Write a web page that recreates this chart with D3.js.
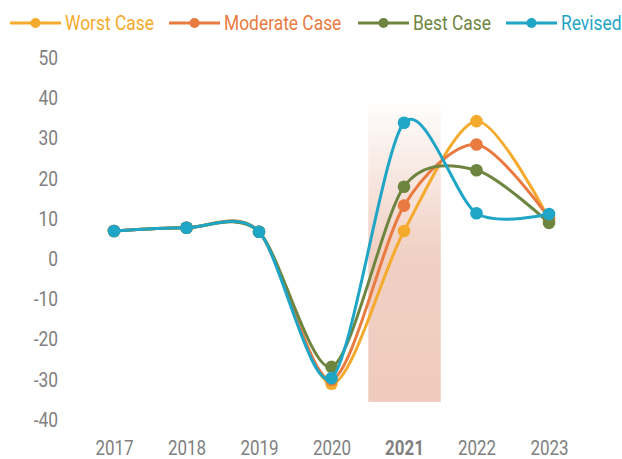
<!DOCTYPE html>
<html><head><meta charset="utf-8">
<script src="https://cdn.jsdelivr.net/npm/d3@7"></script>
<style>body{margin:0;background:#fff}svg{display:block;font-family:Roboto,sans-serif}</style>
</head><body><svg id="c" width="622" height="459"></svg>
<script>
const years = ["2017","2018","2019","2020","2021","2022","2023"];
const highlightYear = "2021";
const yTicks = [50,40,30,20,10,0,-10,-20,-30,-40];
const seriesNames = ["Worst Case","Moderate Case","Best Case","Revised"];
const seriesColors = ["#F4AA2C","#E97A40","#6E8540","#1FA5C6"];
const worstCase = [7, 7.8, 6.8, -31, 7, 34.3, 10];
const moderateCase = [7, 7.8, 6.8, -30, 13.3, 28.5, 10.3];
const bestCase = [7, 7.8, 6.8, -26.8, 18, 22.1, 9];
const revised = [7, 7.8, 6.8, -29.6, 33.9, 11.4, 11.2];
const seriesValues = [worstCase, moderateCase, bestCase, revised];

const svg = d3.select("#c");
const x = d3.scalePoint().domain(years).range([114, 549]);
const y = d3.scaleLinear().domain([-40, 50]).range([420, 58]);
const squeeze = "scale(0.87,1)";

// highlight band
const defs = svg.append("defs");
const g = defs.append("linearGradient").attr("id","hl").attr("x1",0).attr("y1",0).attr("x2",0).attr("y2",1);
g.append("stop").attr("offset","0").attr("stop-color","#EFCBBD").attr("stop-opacity",0.05);
g.append("stop").attr("offset","0.5").attr("stop-color","#EFCBBD").attr("stop-opacity",0.9);
g.append("stop").attr("offset","1").attr("stop-color","#EFCBBD").attr("stop-opacity",1);
const step = x.step();
svg.append("rect")
  .attr("x", x(highlightYear) - step/2 + 0.5)
  .attr("width", step)
  .attr("y", y(38.5))
  .attr("height", y(-35.5) - y(38.5))
  .attr("fill","url(#hl)");

// y axis
const yAxis = svg.append("g").attr("transform","translate(58,0)")
  .call(d3.axisLeft(y).tickValues(yTicks).tickSize(0).tickPadding(0).tickFormat(d => String(d)));
yAxis.select(".domain").remove();
yAxis.selectAll("text").attr("fill","#808080").attr("font-size","20px").attr("font-family","Roboto, sans-serif")
  .attr("transform", squeeze);

// x axis
const xAxis = svg.append("g").attr("transform","translate(0,449)")
  .call(d3.axisBottom(x).tickSize(0).tickPadding(0));
xAxis.select(".domain").remove();
xAxis.selectAll("text").attr("fill","#808080").attr("font-size","19.5px").attr("font-family","Roboto, sans-serif")
  .attr("dy","0.33em").attr("transform", squeeze)
  .attr("font-weight", d => d === highlightYear ? "bold" : "normal");

const line = d3.line().x((d,i)=>x(years[i])).y(d=>y(d)).curve(d3.curveCardinal.tension(0.15));

seriesValues.forEach((vals, si) => {
  const gs = svg.append("g");
  gs.append("path").datum(vals).attr("d", line).attr("fill","none")
    .attr("stroke", seriesColors[si]).attr("stroke-width",3);
  gs.selectAll("circle").data(vals).join("circle")
    .attr("cx",(d,i)=>x(years[i])).attr("cy",d=>y(d)).attr("r",6.3)
    .attr("fill",seriesColors[si]);
});

// legend
const legendX = [10, 169, 358, 506];
const lg = svg.append("g").attr("transform","translate(0,23)");
seriesNames.forEach((n, i) => {
  const gi = lg.append("g").attr("transform",`translate(${legendX[i]},0)`);
  gi.append("line").attr("x1",0).attr("x2",51).attr("stroke",seriesColors[i]).attr("stroke-width",3);
  gi.append("circle").attr("cx",25.5).attr("r",5).attr("fill",seriesColors[i]);
  gi.append("g").attr("transform","translate(55,0)")
    .append("text").attr("dy","0.35em").attr("fill",seriesColors[i])
    .attr("font-size","20px").attr("transform", squeeze).text(n);
});
</script></body></html>
